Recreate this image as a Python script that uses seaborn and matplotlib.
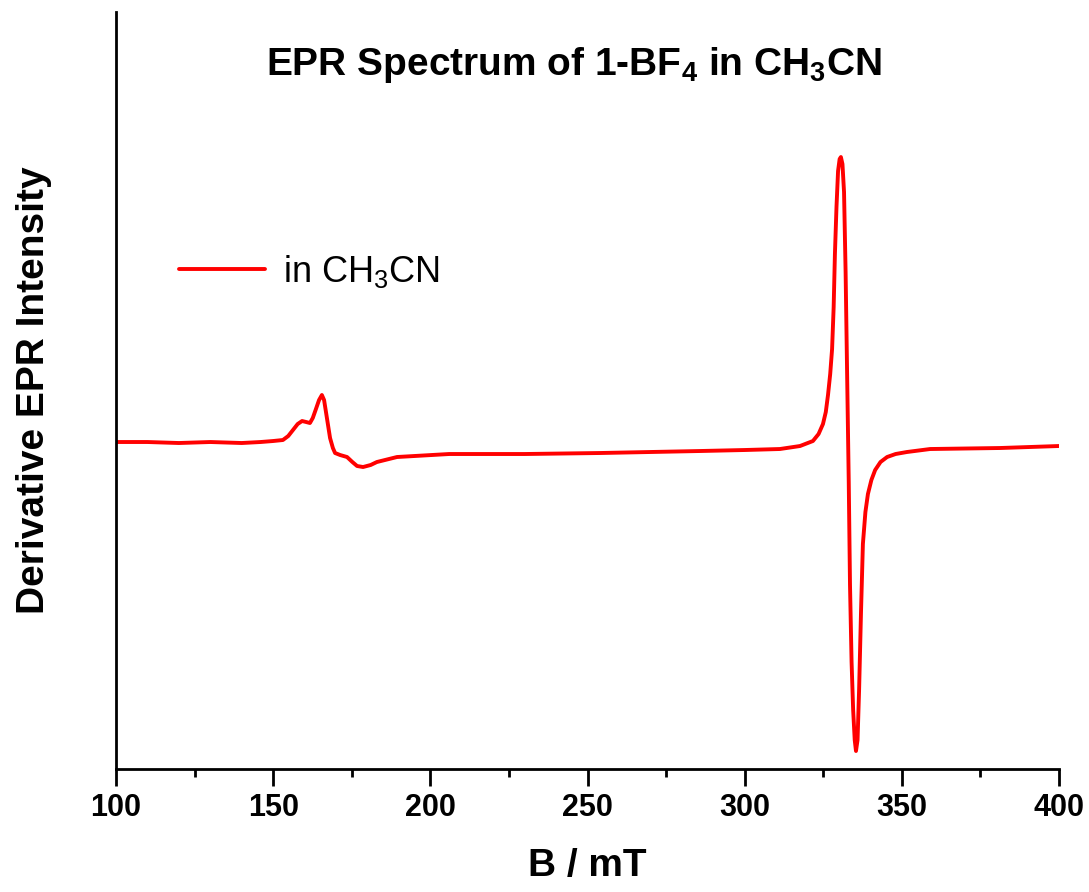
import pandas as pd
import seaborn as sns
import matplotlib.pyplot as plt
from matplotlib.ticker import MultipleLocator

# 磁场 B (mT) 与微分强度 (任意单位)
field = [100, 110, 120, 130, 140, 146, 150, 153.1, 154.8, 156.3, 157.8, 159.2, 160.5,
         161.7, 162.6, 163.5, 164.6, 165.5, 166.2, 166.8, 167.5, 168.1, 169.0, 169.7,
         171.3, 173.5, 175.2, 176.7, 178.6, 181.0, 183.0, 189.4, 206, 230,
         254, 285.8, 300, 311.2, 317.6, 321.7, 323.5, 324.9, 325.8, 326.5, 327.2,
         327.8, 328.3, 328.7, 329.2, 329.7, 330.2, 330.6, 331.1, 331.6, 332.1, 332.6,
         333.1, 333.5, 334.0, 334.5, 335.0, 335.4, 335.9, 336.4, 337.0, 337.6, 338.4,
         339.2, 340.3, 341.5, 343.2, 345.3, 348.0, 351.6, 359.0, 381.2, 400]
intensity = [0, 0, -1, 0, -1, 0, 1, 2, 6, 12, 18, 21, 20,
             19, 24, 32, 42, 47, 42, 30, 16, 4, -6, -11,
             -13, -15, -20, -24, -25, -23, -20, -15, -12, -12,
             -11, -9, -8, -7, -4, 1, 8, 18, 30, 47, 68,
             93, 135, 188, 235, 271, 283, 285, 278, 250, 170, 64,
             -40, -143, -220, -268, -298, -309, -298, -247, -170, -102, -70,
             -52, -38, -28, -20, -15, -12, -10, -7, -6, -4]

data = pd.DataFrame({"B": field, "I": intensity})

sns.set_style("white")
plt.rcParams['font.family'] = ['Liberation Sans', 'DejaVu Sans']
plt.rcParams['mathtext.fontset'] = 'custom'
plt.rcParams['mathtext.rm'] = 'Liberation Sans'
plt.rcParams['mathtext.bf'] = 'Liberation Sans:bold'
plt.rcParams['text.color'] = 'black'
plt.rcParams['axes.labelcolor'] = 'black'
plt.rcParams['xtick.color'] = 'black'

fig = plt.figure(figsize=(10.89, 8.92), dpi=100)
ax = fig.add_axes([0.1065, 0.1379, 0.866, 0.8486])

sns.lineplot(data=data, x="B", y="I", color="red", lw=2.8, ax=ax,
             sort=False, estimator=None, label=r"in CH$_3$CN")

ax.set_xlim(100, 400)
ax.set_ylim(-327, 430)
ax.xaxis.set_major_locator(MultipleLocator(50))
ax.xaxis.set_minor_locator(MultipleLocator(25))
ax.set_yticks([])
ax.tick_params(axis='x', which='major', direction='out', length=12, width=2,
               labelsize=22, pad=5, bottom=True)
ax.tick_params(axis='x', which='minor', direction='out', length=6, width=2, bottom=True)
for t in ax.get_xticklabels():
    t.set_fontweight('bold')

for s in ['top', 'right']:
    ax.spines[s].set_visible(False)
for s in ['left', 'bottom']:
    ax.spines[s].set_linewidth(2)
    ax.spines[s].set_color('black')

ax.set_xlabel("B / mT", fontsize=28, fontweight='bold', labelpad=18)
ax.set_ylabel("Derivative EPR Intensity", fontsize=28, fontweight='bold', labelpad=46)

ax.text(0.485, 0.93, r"EPR Spectrum of 1-BF$_\mathbf{4}$ in CH$_\mathbf{3}$CN",
        transform=ax.transAxes, ha='center', va='center', fontsize=28, fontweight='bold')

leg = ax.legend(loc='upper left', bbox_to_anchor=(0.032, 0.725), frameon=False,
                fontsize=26, handlelength=2.4, handletextpad=0.5)

plt.savefig("out.png", dpi=100)
